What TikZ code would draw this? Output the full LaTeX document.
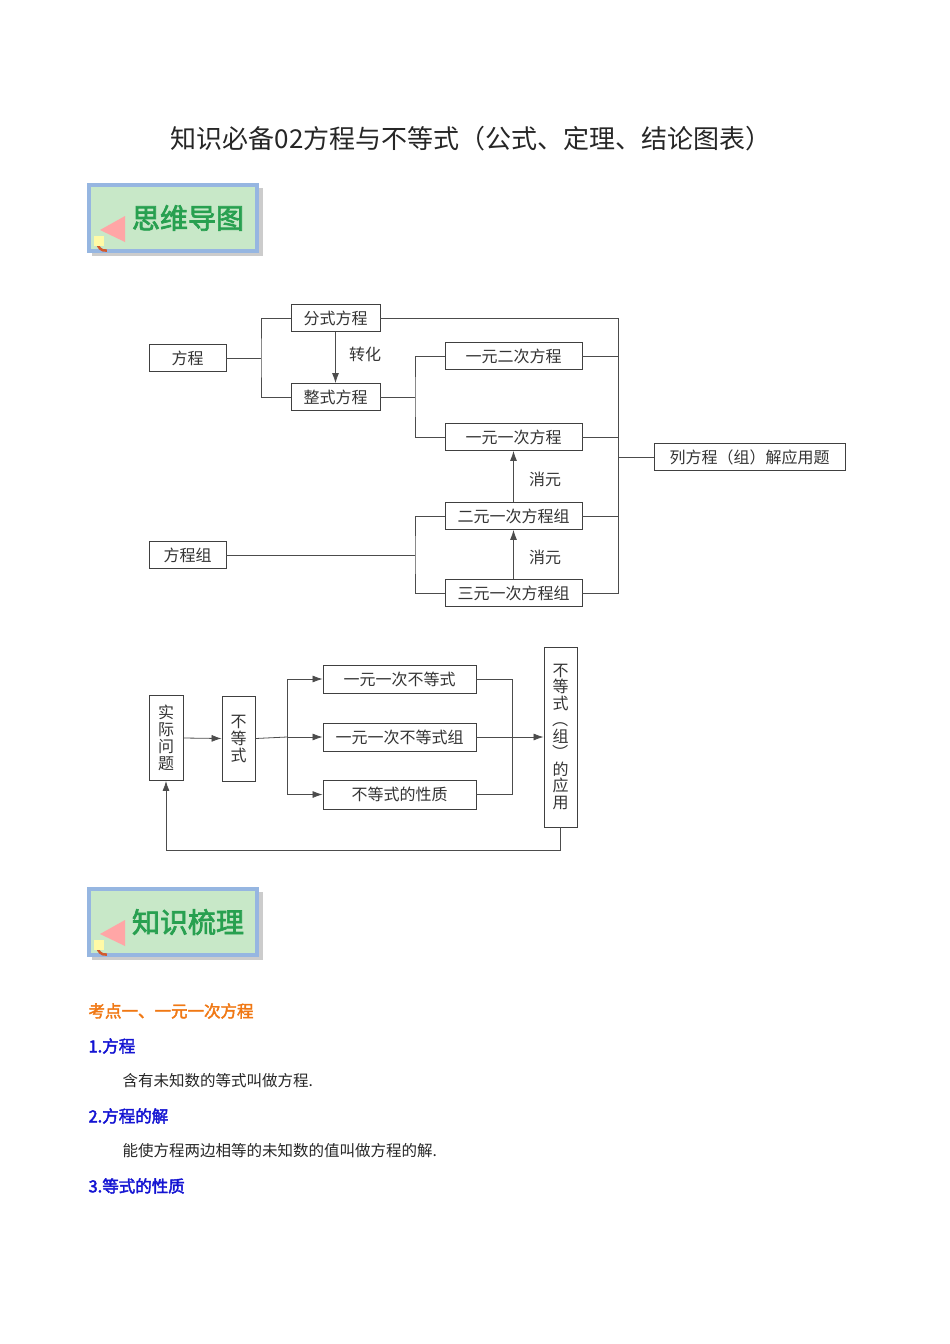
\documentclass[tikz,border=0pt]{standalone}
\usepackage{fontspec}
\setmainfont{Noto Sans CJK SC}[AutoFakeBold=2.5]
\usetikzlibrary{arrows.meta}
\begin{document}
\begin{tikzpicture}[x=1pt,y=-1pt,
 bx/.style={draw=black!75,line width=0.9pt,minimum height=27pt,inner sep=1pt,font=\fontsize{16}{16}\selectfont,text=black!80},
 vb/.style={draw=black!75,line width=0.9pt,inner sep=1pt,font=\fontsize{16}{17}\selectfont,text=black!80,align=center},
 ln/.style={draw=black!70,line width=0.8pt},
 ar/.style={ln,-{Latex[length=10pt,width=7pt]}},
 lab/.style={font=\fontsize{16}{16}\selectfont,text=black!80},
 banner/.style={line width=3.5pt,minimum width=168pt,minimum height=66pt}]
\useasboundingbox (0,0) rectangle (950,1344);
\node[font=\fontsize{26}{26}\selectfont,text=black!85] (title) at (471,139) {知识必备02方程与不等式（公式、定理、结论图表）};
% banners
\foreach \y/\t/\n in {218/思维导图/b1, 922/知识梳理/b2}{
 \fill[black!20] (92,\y-30) rectangle (263,\y+38);
 \node[banner,draw={rgb,255:red,150;green,182;blue,225},fill={rgb,255:red,200;green,232;blue,200}] (\n) at (173,\y) {};
 \node[font=\fontsize{28}{28}\selectfont\bfseries,text={rgb,255:red,40;green,160;blue,80}] at (188,\y) {\t};
 \fill[red!35] (100,\y+12) -- (125,\y-2) -- (125,\y+24) -- cycle;
 \draw[brown!70!red,line width=2.5pt] (98,\y+22) arc (200:80:8);
 \fill[yellow!35] (94,\y+18) rectangle (104,\y+28);
}
% top diagram
\node[bx,minimum width=89pt] (fs) at (335.5,318) {分式方程};
\node[bx,minimum width=77pt] (fc) at (187.5,358) {方程};
\node[bx,minimum width=89pt] (zs) at (335.5,397) {整式方程};
\node[bx,minimum width=137pt] (e2) at (513.5,356) {一元二次方程};
\node[bx,minimum width=137pt] (e1) at (513.5,437) {一元一次方程};
\node[bx,minimum width=191pt] (app) at (749.5,457) {列方程（组）解应用题};
\node[bx,minimum width=137pt] (s2) at (513.5,516) {二元一次方程组};
\node[bx,minimum width=77pt] (fcz) at (187.5,555) {方程组};
\node[bx,minimum width=137pt] (s3) at (513.5,593) {三元一次方程组};
\coordinate (a1) at (261,358);
\draw[ln] (fc.east) -- (a1);
\draw[ln] (fs.west) -| (a1) |- (zs.west);
\draw[ar] (fs.south) -- (zs.north);
\node[lab] at (365,354) {转化};
\coordinate (r) at (618,457);
\draw[ln] (fs.east) -| (618,593) -- (s3.east);
\draw[ln] (e2.east) -- (618,356);
\draw[ln] (e1.east) -- (618,437);
\draw[ln] (s2.east) -- (618,516);
\draw[ln] (r) -- (app.west);
\coordinate (a2) at (415,397);
\draw[ln] (zs.east) -- (a2);
\draw[ln] (e2.west) -| (a2) |- (e1.west);
\draw[ar] (s2.north) -- (e1.south);
\node[lab] at (545,479) {消元};
\draw[ar] (s3.north) -- (s2.south);
\node[lab] at (545,557) {消元};
\coordinate (a3) at (415,555);
\draw[ln] (fcz.east) -- (a3);
\draw[ln] (s2.west) -| (a3) |- (s3.west);
% bottom diagram
\node[vb,minimum width=34pt,minimum height=85pt] (sj) at (166,738) {实\\际\\问\\题};
\node[vb,minimum width=33pt,minimum height=85pt] (bd) at (238.5,738.5) {不\\等\\式};
\node[bx,minimum width=153pt,minimum height=28pt] (n1) at (399.5,679) {一元一次不等式};
\node[bx,minimum width=153pt,minimum height=28pt] (n2) at (399.5,737) {一元一次不等式组};
\node[bx,minimum width=153pt,minimum height=29pt] (n3) at (399.5,794.5) {不等式的性质};
\node[vb,minimum width=33pt,minimum height=180pt,font=\fontsize{16}{16.5}\selectfont] (yy) at (560.5,737) {不\\等\\式\\\rotatebox[origin=c]{-90}{（}\\组\\\rotatebox[origin=c]{-90}{）}\\的\\应\\用};
\draw[ar] (sj.east) -- (bd.west);
\coordinate (b1) at (287,737);
\draw[ln] (bd.east) -- (b1);
\draw[ar] (b1) |- (n1.west);
\draw[ar] (b1) -- (n2.west);
\draw[ar] (b1) |- (n3.west);
\coordinate (b2) at (512,737);
\draw[ln] (n1.east) -| (b2);
\draw[ln] (n3.east) -| (b2);
\draw[ln] (n2.east) -- (b2);
\draw[ar] (b2) -- (yy.west);
\coordinate (f1) at (560.5,850);
\coordinate (f2) at (166,850);
\draw[ar] (yy.south) -- (f1) -- (f2) -- (sj.south);
% text
\node[anchor=west,font=\fontsize{16.5}{16.5}\selectfont\bfseries,text={rgb,255:red,240;green,120;blue,20}] (k1) at (85,1011) {考点一、一元一次方程};
\node[anchor=west,font=\fontsize{16.5}{16.5}\selectfont\bfseries,text={rgb,255:red,20;green,20;blue,210}] (h1) at (85,1046) {1.方程};
\node[anchor=west,font=\fontsize{15.5}{15.5}\selectfont,text=black!85] (p1) at (119,1081) {含有未知数的等式叫做方程.};
\node[anchor=west,font=\fontsize{16.5}{16.5}\selectfont\bfseries,text={rgb,255:red,20;green,20;blue,210}] (h2) at (85,1116) {2.方程的解};
\node[anchor=west,font=\fontsize{15.5}{15.5}\selectfont,text=black!85] (p2) at (119,1151) {能使方程两边相等的未知数的值叫做方程的解.};
\node[anchor=west,font=\fontsize{16.5}{16.5}\selectfont\bfseries,text={rgb,255:red,20;green,20;blue,210}] (h3) at (85,1186) {3.等式的性质};
\end{tikzpicture}
\end{document}
